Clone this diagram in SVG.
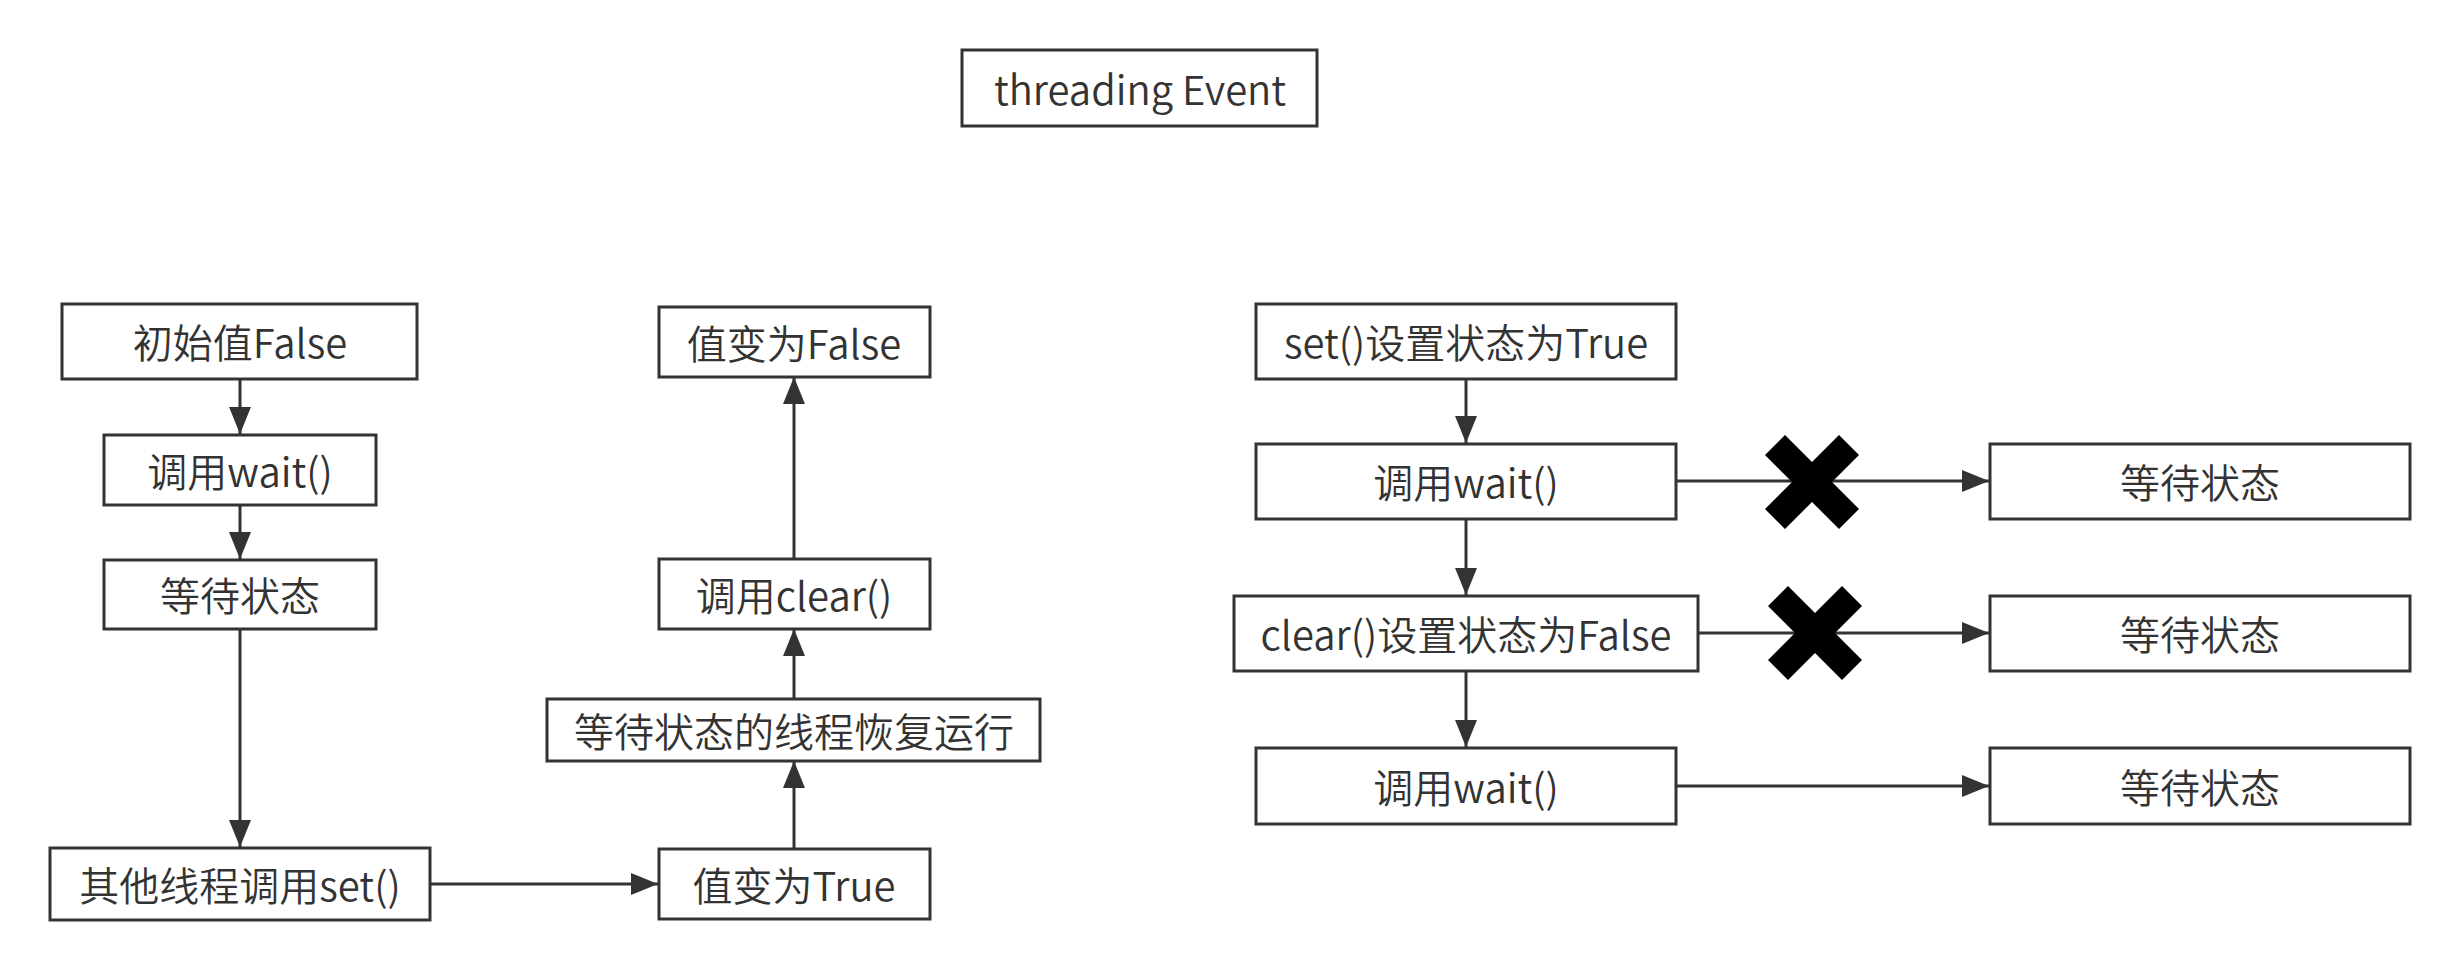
<svg xmlns="http://www.w3.org/2000/svg" width="2460" height="969" viewBox="0 0 2460 969">
<style>
.box{fill:#ffffff;stroke:#333333;stroke-width:3}
.lbl{font-family:"Noto Sans CJK SC","Noto Sans",sans-serif;font-size:40px;font-weight:350;fill:#333333;text-anchor:middle;dominant-baseline:central}
.edge{fill:none;stroke:#333333;stroke-width:3}
.cross{fill:#000000}
</style>
<defs>
<marker id="arr" viewBox="0 0 27 22" refX="27" refY="11" markerWidth="27" markerHeight="22" markerUnits="userSpaceOnUse" orient="auto">
<path d="M0,0 L27,11 L0,22 Z" fill="#333333"/>
</marker>
</defs>
<rect width="2460" height="969" fill="#ffffff"/>
<g id="title"><rect class="box" x="962" y="50" width="355" height="76"/><text class="lbl" x="1140" y="88">threading Event</text></g>
<g id="n_init"><rect class="box" x="62" y="304" width="355" height="75"/><text class="lbl" x="240" y="341">初始值False</text></g>
<g id="n_wait1"><rect class="box" x="104" y="435" width="272" height="70"/><text class="lbl" x="240" y="470">调用wait()</text></g>
<g id="n_waitstate1"><rect class="box" x="104" y="560" width="272" height="69"/><text class="lbl" x="240" y="594">等待状态</text></g>
<g id="n_otherset"><rect class="box" x="50" y="848" width="380" height="72"/><text class="lbl" x="240" y="884">其他线程调用set()</text></g>
<g id="n_true"><rect class="box" x="659" y="849" width="271" height="70"/><text class="lbl" x="794" y="884">值变为True</text></g>
<g id="n_resume"><rect class="box" x="547" y="699" width="493" height="62"/><text class="lbl" x="794" y="730">等待状态的线程恢复运行</text></g>
<g id="n_clear"><rect class="box" x="659" y="559" width="271" height="70"/><text class="lbl" x="794" y="594">调用clear()</text></g>
<g id="n_false"><rect class="box" x="659" y="307" width="271" height="70"/><text class="lbl" x="794" y="342">值变为False</text></g>
<g id="n_set"><rect class="box" x="1256" y="304" width="420" height="75"/><text class="lbl" x="1466" y="341">set()设置状态为True</text></g>
<g id="n_wait2"><rect class="box" x="1256" y="444" width="420" height="75"/><text class="lbl" x="1466" y="481">调用wait()</text></g>
<g id="n_clearfalse"><rect class="box" x="1234" y="596" width="464" height="75"/><text class="lbl" x="1466" y="633">clear()设置状态为False</text></g>
<g id="n_wait3"><rect class="box" x="1256" y="748" width="420" height="76"/><text class="lbl" x="1466" y="786">调用wait()</text></g>
<g id="n_ws_a"><rect class="box" x="1990" y="444" width="420" height="75"/><text class="lbl" x="2200" y="481">等待状态</text></g>
<g id="n_ws_b"><rect class="box" x="1990" y="596" width="420" height="75"/><text class="lbl" x="2200" y="633">等待状态</text></g>
<g id="n_ws_c"><rect class="box" x="1990" y="748" width="420" height="76"/><text class="lbl" x="2200" y="786">等待状态</text></g>
<g id="connectors">
<line class="edge" x1="240" y1="379" x2="240" y2="434" marker-end="url(#arr)"/>
<line class="edge" x1="240" y1="505" x2="240" y2="559" marker-end="url(#arr)"/>
<line class="edge" x1="240" y1="629" x2="240" y2="847" marker-end="url(#arr)"/>
<line class="edge" x1="430" y1="884" x2="658" y2="884" marker-end="url(#arr)"/>
<line class="edge" x1="794" y1="849" x2="794" y2="761" marker-end="url(#arr)"/>
<line class="edge" x1="794" y1="699" x2="794" y2="629" marker-end="url(#arr)"/>
<line class="edge" x1="794" y1="559" x2="794" y2="377" marker-end="url(#arr)"/>
<line class="edge" x1="1466" y1="379" x2="1466" y2="443" marker-end="url(#arr)"/>
<line class="edge" x1="1466" y1="519" x2="1466" y2="595" marker-end="url(#arr)"/>
<line class="edge" x1="1466" y1="671" x2="1466" y2="747" marker-end="url(#arr)"/>
<line class="edge" x1="1676" y1="481" x2="1989" y2="481" marker-end="url(#arr)"/>
<line class="edge" x1="1698" y1="633" x2="1989" y2="633" marker-end="url(#arr)"/>
<line class="edge" x1="1676" y1="786" x2="1989" y2="786" marker-end="url(#arr)"/>
</g>
<g id="x_marks">
<polygon class="cross" transform="translate(1812,482)" points="-27,-47 0,-20 27,-47 47,-27 20,0 47,27 27,47 0,20 -27,47 -47,27 -20,0 -47,-27"/>
<polygon class="cross" transform="translate(1815,633)" points="-27,-47 0,-20 27,-47 47,-27 20,0 47,27 27,47 0,20 -27,47 -47,27 -20,0 -47,-27"/>
</g>
</svg>
